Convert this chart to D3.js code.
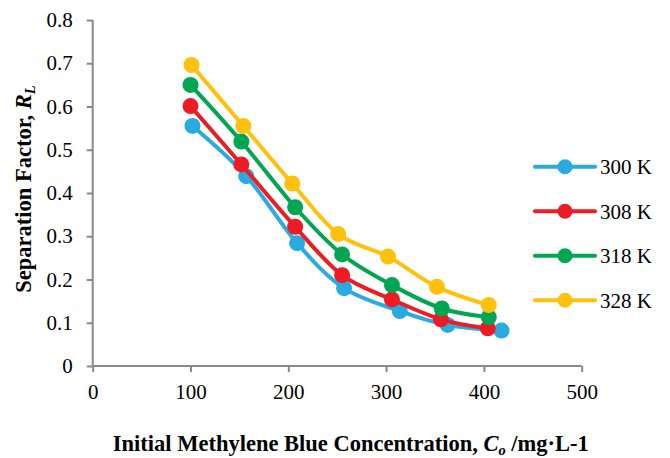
<!DOCTYPE html>
<html>
<head>
<meta charset="utf-8">
<script src="https://cdn.jsdelivr.net/npm/d3@7"></script>
<style>
  html, body { margin: 0; padding: 0; background: #fff; }
  svg { display: block; }
  text { font-family: "Liberation Serif", "Times New Roman", serif; fill: #000; }
</style>
</head>
<body>
<div id="chart"></div>
<script>
// Separation factor R_L against initial methylene blue concentration, four temperatures
const seriesNames = ["300 K", "308 K", "318 K", "328 K"];
const seriesColors = ["#29ABE2", "#ED1C24", "#00A651", "#FFC10E"];

const conc300 = [102, 157, 209, 257, 314, 363, 418];
const rl300   = [0.555, 0.439, 0.284, 0.180, 0.127, 0.095, 0.082];

const conc308 = [100, 152, 207, 255, 306, 356, 404];
const rl308   = [0.601, 0.466, 0.322, 0.210, 0.154, 0.108, 0.087];

const conc318 = [100, 152, 207, 255, 306, 357, 405];
const rl318   = [0.650, 0.519, 0.367, 0.258, 0.187, 0.133, 0.113];

const conc328 = [101, 154, 204, 251, 302, 352, 405];
const rl328   = [0.696, 0.555, 0.422, 0.305, 0.253, 0.183, 0.141];

const xTicks = [0, 100, 200, 300, 400, 500];
const yTicks = [0, 0.1, 0.2, 0.3, 0.4, 0.5, 0.6, 0.7, 0.8];

const concs = [conc300, conc308, conc318, conc328];
const rls = [rl300, rl308, rl318, rl328];
const series = seriesNames.map((name, i) => ({
  name,
  color: seriesColors[i],
  points: concs[i].map((c, j) => ({ x: c, y: rls[i][j] }))
}));

const W = 670, H = 458;
const plot = { left: 92.7, right: 581.7, top: 20, bottom: 366 };

const svg = d3.select("#chart").append("svg")
  .attr("width", W).attr("height", H);

const x = d3.scaleLinear().domain([0, 500]).range([plot.left, plot.right]);
const y = d3.scaleLinear().domain([0, 0.8]).range([plot.bottom, plot.top]);

const axisColor = "#898989";

// y axis
const yAxis = svg.append("g")
  .attr("transform", `translate(${plot.left},0)`)
  .call(d3.axisLeft(y).tickValues(yTicks).tickSize(6).tickPadding(14)
    .tickFormat(d => d === 0 ? "0" : d3.format(".1f")(d)));
// x axis
const xAxis = svg.append("g")
  .attr("transform", `translate(0,${plot.bottom})`)
  .call(d3.axisBottom(x).tickValues(xTicks).tickSize(6).tickPadding(12)
    .tickFormat(d3.format("d")));

[xAxis, yAxis].forEach(g => {
  g.select(".domain").attr("stroke", axisColor).attr("stroke-width", 2);
  g.selectAll(".tick line").attr("stroke", axisColor).attr("stroke-width", 2);
  g.selectAll(".tick text")
    .attr("font-family", '"Liberation Serif", "Times New Roman", serif')
    .attr("font-size", 21).attr("fill", "#000");
});
// axis paths without end caps
yAxis.select(".domain").attr("d", `M0,${plot.top}V${plot.bottom}`);
xAxis.select(".domain").attr("d", `M${plot.left},0H${plot.right}`);

// series lines and markers
const line = d3.line()
  .x(d => x(d.x)).y(d => y(d.y))
  .curve(d3.curveCardinal.tension(0));

series.forEach(s => {
  const g = svg.append("g");
  g.append("path")
    .datum(s.points)
    .attr("d", line)
    .attr("fill", "none")
    .attr("stroke", s.color)
    .attr("stroke-width", 4)
    .attr("stroke-linejoin", "round")
    .attr("stroke-linecap", "round");
  g.selectAll("circle")
    .data(s.points)
    .join("circle")
    .attr("cx", d => x(d.x))
    .attr("cy", d => y(d.y))
    .attr("r", 8)
    .attr("fill", s.color);
});

// legend
const legend = svg.append("g");
series.forEach((s, i) => {
  const ly = 166.7 + i * 44.5;
  const row = legend.append("g").attr("transform", `translate(0,${ly})`);
  row.append("line")
    .attr("x1", 535).attr("x2", 595).attr("y1", 0).attr("y2", 0)
    .attr("stroke", s.color).attr("stroke-width", 4)
    .attr("stroke-linecap", "round");
  row.append("circle").attr("cx", 565).attr("cy", 0).attr("r", 7.5)
    .attr("fill", s.color);
  row.append("text")
    .attr("x", 600).attr("y", 0).attr("dy", "0.35em")
    .attr("font-size", 21)
    .text(s.name);
});

// axis titles
const xTitle = svg.append("text")
  .attr("x", 350.8).attr("y", 451)
  .attr("text-anchor", "middle")
  .attr("font-size", 22.5).attr("font-weight", "bold");
xTitle.append("tspan").text("Initial Methylene Blue Concentration, ");
xTitle.append("tspan").attr("font-style", "italic").text("C");
xTitle.append("tspan").attr("font-style", "italic").attr("font-size", 14.5)
  .attr("dy", 4).text("o");
xTitle.append("tspan").attr("dy", -4).text(" /mg·L-1");

const yTitle = svg.append("text")
  .attr("transform", "translate(31,189) rotate(-90)")
  .attr("text-anchor", "middle")
  .attr("font-size", 22.5).attr("font-weight", "bold");
yTitle.append("tspan").text("Separation Factor, ");
yTitle.append("tspan").attr("font-style", "italic").text("R");
yTitle.append("tspan").attr("font-style", "italic").attr("font-size", 14.5)
  .attr("dy", 4).text("L");
</script>
</body>
</html>
